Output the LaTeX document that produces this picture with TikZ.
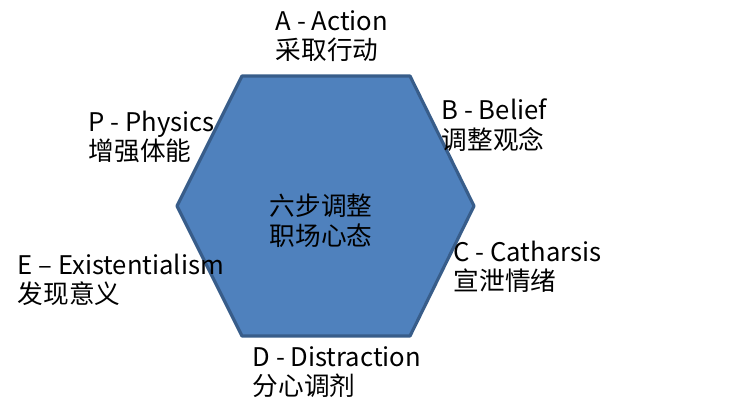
\documentclass[tikz,border=0pt]{standalone}
\usepackage{fontspec}
\setmainfont{Noto Sans CJK SC}
\definecolor{hexfill}{HTML}{4F81BD}
\definecolor{hexline}{HTML}{385D8A}
\tikzset{
    label/.style={inner sep=0pt, align=left, anchor=west, font=\fontsize{7.3}{8.4}\selectfont},
}
\begin{document}
\begin{tikzpicture}
        \useasboundingbox (0, 0) rectangle (7.34, 4.13);
        \draw[fill=hexfill, draw=hexline, line width=0.9pt, line join=round]
            (2.42, 3.37) -- (4.10, 3.37) -- (4.74, 2.07) -- (4.10, 0.77) -- (2.42, 0.77) -- (1.77, 2.07) -- cycle;
        \node[label, align=center, anchor=center] (center) at (3.21, 1.92) {六步调整\\职场心态};

        \node[label] (action) at (2.75, 3.77) {A - Action\\采取行动};
        \node[label] (belief) at (4.41, 2.88) {B - Belief\\调整观念};
        \node[label] (catharsis) at (4.53, 1.46) {C - Catharsis\\宣泄情绪};
        \node[label] (distraction) at (2.52, 0.41) {D - Distraction\\分心调剂};
        \node[label] (existential) at (0.17, 1.33) {E – Existentialism\\发现意义};
        \node[label] (physics) at (0.88, 2.76) {P - Physics\\增强体能};
    \end{tikzpicture}
\end{document}
